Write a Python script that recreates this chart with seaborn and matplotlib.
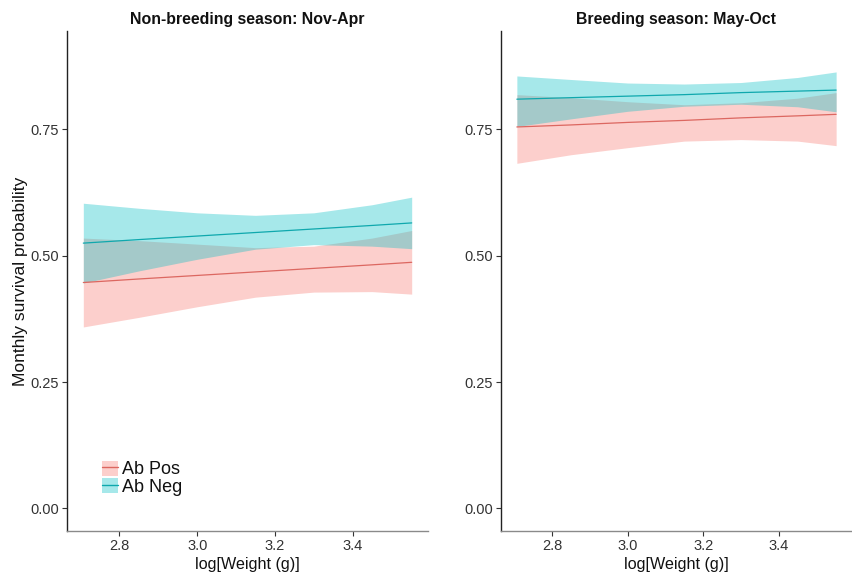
import numpy as np
import pandas as pd
import seaborn as sns
import matplotlib
matplotlib.use("Agg")
import matplotlib.pyplot as plt
from matplotlib.patches import Patch
from matplotlib.lines import Line2D
from matplotlib.legend_handler import HandlerTuple

# ---------------- data ----------------
log_weight = [2.707, 2.85, 3.0, 3.15, 3.3, 3.45, 3.552]
groups = ["Ab Pos", "Ab Neg"]
seasons = ["Non-breeding season: Nov-Apr", "Breeding season: May-Oct"]

# Non-breeding season
nb_pos_fit = [0.447, 0.454, 0.461, 0.468, 0.475, 0.482, 0.487]
nb_pos_lo = [0.359, 0.378, 0.399, 0.418, 0.428, 0.429, 0.424]
nb_pos_hi = [0.535, 0.530, 0.523, 0.516, 0.519, 0.535, 0.550]
nb_neg_fit = [0.525, 0.532, 0.539, 0.546, 0.553, 0.560, 0.565]
nb_neg_lo = [0.446, 0.470, 0.493, 0.513, 0.522, 0.519, 0.514]
nb_neg_hi = [0.604, 0.594, 0.585, 0.580, 0.585, 0.601, 0.616]

# Breeding season
br_pos_fit = [0.755, 0.759, 0.764, 0.768, 0.773, 0.777, 0.780]
br_pos_lo = [0.683, 0.700, 0.714, 0.727, 0.730, 0.727, 0.718]
br_pos_hi = [0.819, 0.813, 0.805, 0.799, 0.803, 0.812, 0.823]
br_neg_fit = [0.810, 0.813, 0.816, 0.819, 0.823, 0.826, 0.828]
br_neg_lo = [0.756, 0.771, 0.786, 0.796, 0.800, 0.795, 0.785]
br_neg_hi = [0.856, 0.849, 0.842, 0.840, 0.843, 0.853, 0.864]

y_ticks = [0.00, 0.25, 0.50, 0.75]
x_ticks = [2.8, 3.0, 3.2, 3.4]

# ---------------- tidy table ----------------
rows = []
panel_data = {
    seasons[0]: {"Ab Pos": (nb_pos_fit, nb_pos_lo, nb_pos_hi),
                 "Ab Neg": (nb_neg_fit, nb_neg_lo, nb_neg_hi)},
    seasons[1]: {"Ab Pos": (br_pos_fit, br_pos_lo, br_pos_hi),
                 "Ab Neg": (br_neg_fit, br_neg_lo, br_neg_hi)},
}
for s in seasons:
    for g in groups:
        fit, lo, hi = panel_data[s][g]
        for x, f, l, h in zip(log_weight, fit, lo, hi):
            rows.append({"season": s, "group": g, "x": x, "fit": f, "lo": l, "hi": h})
df = pd.DataFrame(rows)

palette = {"Ab Pos": "#F8766D", "Ab Neg": "#00BFC4"}
line_cols = {"Ab Pos": "#DC6760", "Ab Neg": "#0FA8AD"}

sns.set_theme(style="ticks")
plt.rcParams["font.family"] = ["Liberation Sans", "DejaVu Sans"]

fig = plt.figure(figsize=(8.52, 5.76), dpi=100)
ax_l = fig.add_axes([67 / 852, 1 - 531 / 576, 361 / 852, 500 / 576])
ax_r = fig.add_axes([501 / 852, 1 - 531 / 576, 351 / 852, 500 / 576])

for ax, s in zip([ax_l, ax_r], seasons):
    sub = df[df["season"] == s]
    for g in groups:
        d = sub[sub["group"] == g]
        ax.fill_between(d["x"], d["lo"], d["hi"], color=palette[g], alpha=0.35,
                        linewidth=0)
    sns.lineplot(data=sub, x="x", y="fit", hue="group", palette=line_cols,
                 hue_order=groups, ax=ax, legend=False, linewidth=0.9)
    ax.set_xlim(2.665, 3.594)
    ax.set_ylim(-0.045, 0.945)
    ax.set_xticks(x_ticks)
    ax.set_xticklabels([f"{t:.1f}" for t in x_ticks])
    ax.set_yticks(y_ticks)
    ax.set_yticklabels([f"{t:.2f}" for t in y_ticks])
    ax.tick_params(axis="both", labelsize=10.5, colors="#333333", length=3.5,
                   width=0.8, pad=2)
    ax.set_xlabel("log[Weight (g)]", fontsize=11.6, color="#111111", labelpad=3)
    ax.set_ylabel("")
    ax.set_title(s, fontsize=11.4, fontweight="bold", color="#111111", pad=5)
    for sp in ["top", "right"]:
        ax.spines[sp].set_visible(False)
    ax.spines["left"].set_color("#222222")
    ax.spines["left"].set_linewidth(1.0)
    ax.spines["bottom"].set_color("#8a8a8a")
    ax.spines["bottom"].set_linewidth(1.0)
    ax.grid(False)

ax_l.set_ylabel("Monthly survival probability", fontsize=12.5, color="#111111",
                labelpad=2)

handles = [(Patch(facecolor=palette[g], alpha=0.35, edgecolor="none"),
            Line2D([], [], color=line_cols[g], linewidth=1.0)) for g in groups]
leg = ax_l.legend(handles, groups, handler_map={tuple: HandlerTuple(ndivide=1, pad=0)},
                  loc="lower left", bbox_to_anchor=(0.098, 0.07), frameon=False,
                  fontsize=13, handlelength=0.85, handleheight=0.9,
                  handletextpad=0.25, labelspacing=0.0, borderpad=0,
                  borderaxespad=0)
for t in leg.get_texts():
    t.set_color("#111111")

fig.savefig("out.png", dpi=100)
